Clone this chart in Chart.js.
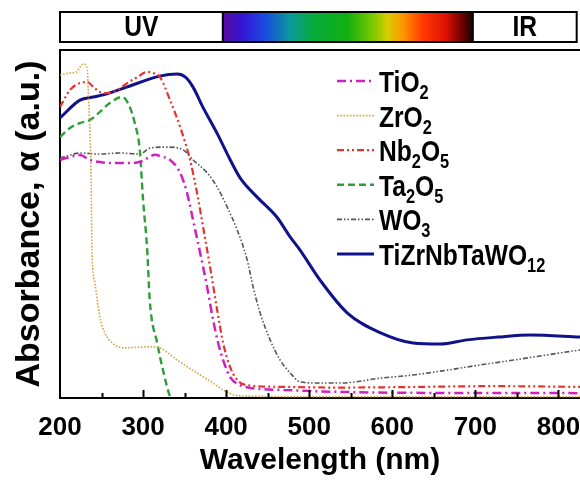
<!DOCTYPE html>
<html lang="en">
<head>
    <meta charset="UTF-8">
    <title>Absorbance spectra</title>
    <style>
        body {
            margin: 0;
            background-color: white;
        }
        #chart {
            display: block;
        }
    </style>
    <script src="https://cdn.jsdelivr.net/npm/chart.js"></script>
</head>
<body>
    <canvas id="chart" width="580" height="481"></canvas>

    <script>
        // wavelength (nm) / absorbance (a.u.)
        const tio2Wl  = [200, 212, 224, 236, 248, 260, 281, 296, 308, 314, 322, 332.5, 344.6, 353, 360.2, 368.7, 377.1, 384.3, 390.4, 396.4, 404.8, 416.9, 429, 469, 610, 826];
        const tio2Abs = [0.684, 0.693, 0.698, 0.684, 0.678, 0.675, 0.675, 0.678, 0.693, 0.699, 0.694, 0.684, 0.647, 0.589, 0.511, 0.417, 0.319, 0.224, 0.158, 0.109, 0.060, 0.037, 0.029, 0.023, 0.015, 0.014];

        const zro2Wl  = [200, 212, 220, 224, 228, 233, 234, 236, 237.5, 238.5, 242, 248, 254, 263, 276, 308, 320, 341, 365, 384, 401, 417, 500, 826];
        const zro2Abs = [0.928, 0.934, 0.937, 0.951, 0.960, 0.943, 0.885, 0.761, 0.626, 0.425, 0.330, 0.233, 0.187, 0.158, 0.144, 0.147, 0.144, 0.109, 0.072, 0.043, 0.017, 0.006, 0.004, 0.004];

        const nb2o5Wl  = [200, 212, 224, 233, 240, 248, 257, 269, 281, 293, 305, 312, 320.4, 332.5, 344.6, 356.6, 365, 372.3, 380.7, 389.2, 396.4, 404.8, 413.3, 425.3, 468.7, 534, 600, 720, 826];
        const nb2o5Abs = [0.836, 0.885, 0.905, 0.908, 0.894, 0.879, 0.876, 0.885, 0.905, 0.922, 0.937, 0.934, 0.922, 0.856, 0.779, 0.684, 0.589, 0.491, 0.376, 0.253, 0.158, 0.089, 0.052, 0.037, 0.032, 0.030, 0.031, 0.034, 0.032];

        const ta2o5Wl  = [200, 212, 224, 236, 248, 260, 275, 284, 290, 296, 300, 305, 308, 317, 324, 333, 336];
        const ta2o5Abs = [0.750, 0.776, 0.790, 0.799, 0.822, 0.848, 0.865, 0.836, 0.790, 0.713, 0.569, 0.425, 0.282, 0.158, 0.080, 0.000, -0.010];

        const wo3Wl  = [200, 212, 224, 248, 272, 296, 308.4, 328.9, 348.2, 360.2, 377.1, 389.2, 401.2, 413.3, 425.3, 432.5, 441, 453, 465, 477.1, 489.2, 509.6, 537.3, 586, 625, 666, 706, 746, 787, 826];
        const wo3Abs = [0.690, 0.698, 0.704, 0.701, 0.704, 0.701, 0.718, 0.721, 0.713, 0.684, 0.647, 0.606, 0.549, 0.483, 0.397, 0.319, 0.244, 0.167, 0.109, 0.072, 0.046, 0.043, 0.043, 0.057, 0.066, 0.080, 0.095, 0.109, 0.124, 0.138];

        const heaWl  = [200, 224, 240, 252, 281, 320, 341, 351, 360, 372, 389, 405, 417, 437, 461, 477, 489, 513, 546, 586, 625, 658, 690, 727, 766, 826];
        const heaAbs = [0.805, 0.856, 0.865, 0.871, 0.894, 0.925, 0.931, 0.922, 0.894, 0.836, 0.761, 0.684, 0.632, 0.578, 0.520, 0.463, 0.425, 0.339, 0.244, 0.187, 0.158, 0.155, 0.167, 0.175, 0.181, 0.175];

        const xTickValues = [200, 300, 400, 500, 600, 700, 800];

        // legend: name + subscripts as [text, isSub] pieces
        const legendNames = [
            [['TiO', 0], ['2', 1]],
            [['ZrO', 0], ['2', 1]],
            [['Nb', 0], ['2', 1], ['O', 0], ['5', 1]],
            [['Ta', 0], ['2', 1], ['O', 0], ['5', 1]],
            [['WO', 0], ['3', 1]],
            [['TiZrNbTaWO', 0], ['12', 1]]
        ];

        const FONT = '"Liberation Sans", Arial, sans-serif';
        const SQUEEZE = 0.82; // the original lettering is narrow

        function pts(wl, ab) {
            return wl.map((w, i) => ({ x: w, y: ab[i] }));
        }

        const styles = [
            { color: '#d21fbf', width: 2.5, dash: [9, 4, 2, 4] },
            { color: '#d9a441', width: 1.6, dash: [1.6, 1.6] },
            { color: '#e3322f', width: 2.2, dash: [7, 3, 2, 3, 2, 3] },
            { color: '#2f9e38', width: 2.4, dash: [7, 4] },
            { color: '#555555', width: 1.6, dash: [5, 2, 1.5, 2, 1.5, 2] },
            { color: '#10128a', width: 3, dash: [] }
        ];

        const series = [
            pts(tio2Wl, tio2Abs), pts(zro2Wl, zro2Abs), pts(nb2o5Wl, nb2o5Abs),
            pts(ta2o5Wl, ta2o5Abs), pts(wo3Wl, wo3Abs), pts(heaWl, heaAbs)
        ];

        function narrowText(ctx, txt, x, y) {
            ctx.save();
            ctx.translate(x, y);
            ctx.scale(SQUEEZE, 1);
            ctx.fillText(txt, 0, 0);
            ctx.restore();
            return ctx.measureText(txt).width * SQUEEZE;
        }

        const framePlugin = {
            id: 'frame',
            afterDraw(chart) {
                const ctx = chart.ctx;
                const a = chart.chartArea;
                const x = chart.scales.x;
                ctx.save();
                ctx.strokeStyle = '#000';
                ctx.lineWidth = 2;
                // top edge of the frame
                ctx.beginPath();
                ctx.moveTo(a.left - 1, a.top);
                ctx.lineTo(a.right, a.top);
                ctx.stroke();
                // inward ticks on the wavelength axis
                for (let v = 250; v <= 800; v += 50) {
                    const px = Math.round(x.getPixelForValue(v)) + 0.5;
                    const len = v % 100 === 0 ? 8 : 5;
                    ctx.beginPath();
                    ctx.moveTo(px, a.bottom);
                    ctx.lineTo(px, a.bottom - len);
                    ctx.stroke();
                }

                // UV / visible / IR bar
                const top = 12, h = 30;
                const l = x.getPixelForValue(200);
                const v1 = x.getPixelForValue(396);
                const v2 = x.getPixelForValue(697);
                const r = x.getPixelForValue(822);
                const g = ctx.createLinearGradient(v1, 0, v2, 0);
                g.addColorStop(0.00, '#5a0a9e');
                g.addColorStop(0.08, '#3316d6');
                g.addColorStop(0.17, '#1a4be0');
                g.addColorStop(0.27, '#0a9a9a');
                g.addColorStop(0.36, '#06ab3c');
                g.addColorStop(0.50, '#10b010');
                g.addColorStop(0.60, '#7cc800');
                g.addColorStop(0.66, '#d8cc00');
                g.addColorStop(0.72, '#ff9500');
                g.addColorStop(0.80, '#ff3a00');
                g.addColorStop(0.89, '#e01200');
                g.addColorStop(0.95, '#7a0000');
                g.addColorStop(1.00, '#1a0000');
                ctx.fillStyle = g;
                ctx.fillRect(v1, top, v2 - v1, h);
                ctx.strokeRect(l, top, r - l, h);
                ctx.beginPath();
                ctx.moveTo(v1, top); ctx.lineTo(v1, top + h);
                ctx.moveTo(v2, top); ctx.lineTo(v2, top + h);
                ctx.stroke();
                ctx.fillStyle = '#000';
                ctx.font = 'bold 30px ' + FONT;
                ctx.textAlign = 'center';
                ctx.textBaseline = 'middle';
                narrowText(ctx, 'UV', (l + v1) / 2, top + h / 2 + 1);
                narrowText(ctx, 'IR', (v2 + r) / 2, top + h / 2 + 1);

                // legend inside the plot
                ctx.textAlign = 'left';
                ctx.textBaseline = 'alphabetic';
                legendNames.forEach((parts, i) => {
                    const yc = 81 + i * 34.6;
                    const st = styles[i];
                    ctx.strokeStyle = st.color;
                    ctx.lineWidth = st.width;
                    ctx.setLineDash(st.dash);
                    ctx.beginPath();
                    ctx.moveTo(337, yc);
                    ctx.lineTo(374, yc);
                    ctx.stroke();
                    ctx.setLineDash([]);
                    let tx = 379;
                    parts.forEach(([txt, sub]) => {
                        ctx.font = sub ? 'bold 20px ' + FONT : 'bold 30px ' + FONT;
                        tx += narrowText(ctx, txt, tx, sub ? yc + 18 : yc + 11);
                    });
                });
                ctx.restore();
            }
        };

        window.onload = function() {
            const ctx = document.getElementById('chart').getContext('2d');
            new Chart(ctx, {
                type: 'line',
                data: {
                    datasets: series.map((d, i) => ({
                        data: d,
                        borderColor: styles[i].color,
                        borderWidth: styles[i].width,
                        borderDash: styles[i].dash,
                        pointRadius: 0,
                        fill: false,
                        cubicInterpolationMode: 'monotone'
                    }))
                },
                options: {
                    responsive: false,
                    animation: false,
                    layout: { autoPadding: false, padding: { top: 50, right: 0, left: 9, bottom: 0 } },
                    plugins: {
                        legend: { display: false },
                        tooltip: { enabled: false }
                    },
                    scales: {
                        x: {
                            type: 'linear',
                            min: 200,
                            max: 826,
                            afterBuildTicks: s => { s.ticks = xTickValues.map(v => ({ value: v })); },
                            afterFit: s => { s.height = 83; s.paddingLeft = 0; s.paddingRight = 0; },
                            grid: { display: false, drawTicks: false },
                            border: { display: true, color: '#000', width: 2 },
                            ticks: {
                                color: '#000',
                                font: { family: FONT, size: 26, weight: 'bold' },
                                padding: 14,
                                maxRotation: 0,
                                autoSkip: false
                            },
                            title: {
                                display: true,
                                text: 'Wavelength (nm)',
                                color: '#000',
                                font: { family: FONT, size: 30, weight: 'bold' },
                                padding: { top: 0, bottom: 2 }
                            }
                        },
                        y: {
                            min: 0,
                            max: 1,
                            afterFit: s => { s.width = 51; s.paddingTop = 0; s.paddingBottom = 0; },
                            grid: { display: false, drawTicks: false },
                            border: { display: true, color: '#000', width: 2 },
                            ticks: { display: false },
                            title: {
                                display: true,
                                text: 'Absorbance, α (a.u.)',
                                color: '#000',
                                font: { family: FONT, size: 34, weight: 'bold' },
                                padding: { top: 0, bottom: 11 }
                            }
                        }
                    }
                },
                plugins: [framePlugin]
            });
        };
    </script>
</body>
</html>
